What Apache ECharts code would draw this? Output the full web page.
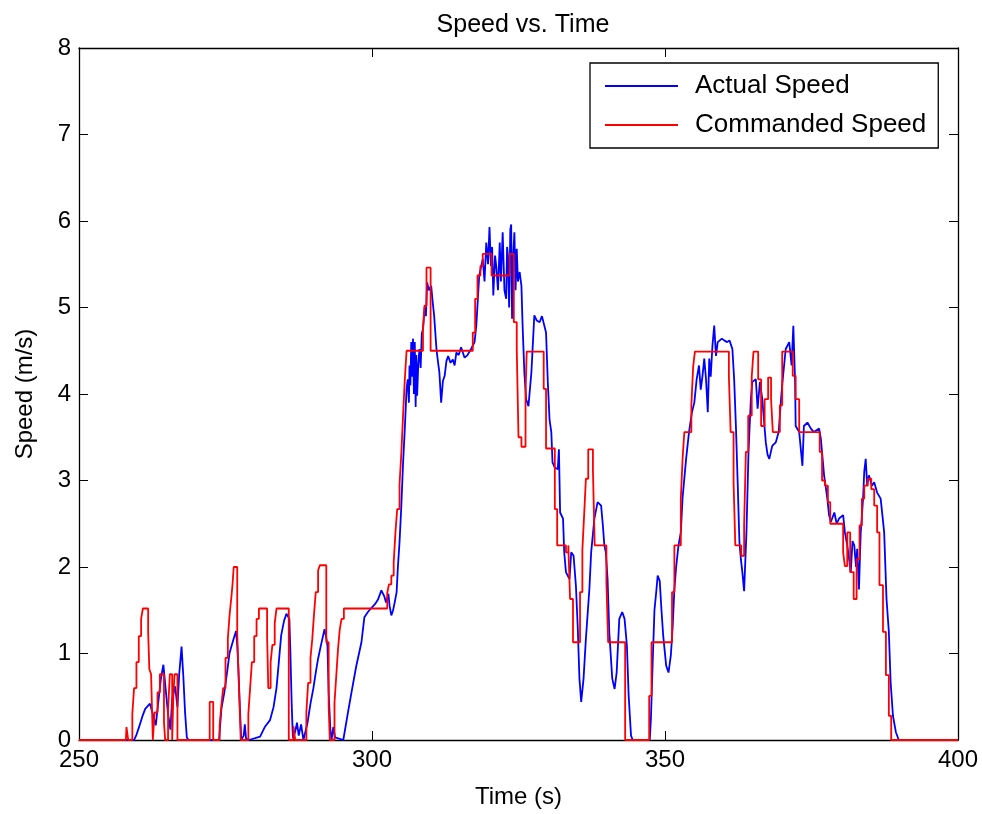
<!DOCTYPE html>
<html>
<head>
<meta charset="utf-8">
<script src="https://cdn.jsdelivr.net/npm/echarts@6/dist/echarts.min.js"></script>
<style>
  html, body { margin: 0; padding: 0; background: #fff; }
  #chart { width: 982px; height: 814px; }
</style>
</head>
<body>
<div id="chart"></div>
<script>
// Measured vehicle speed, [time (s), speed (m/s)]
const actualSpeed = [
  [250,0],[259.4,0],[259.8,0.06],[260.3,0.16],[260.8,0.27],[261.3,0.36],[262.1,0.42],[262.6,0.3],[263.1,0.17],
  [263.5,0.42],[264.0,0.72],[264.4,0.87],[264.8,0.58],[265.2,0.3],[265.6,0.12],[265.9,0.48],[266.4,0.62],
  [266.8,0.38],[267.1,0.76],[267.5,1.08],[267.8,0.74],[268.1,0.32],[268.4,0.03],[268.7,0],
  [273.9,0],[274.3,0.36],[274.8,0.55],[275.3,0.8],[275.7,1.01],[276.3,1.15],[276.8,1.26],[277.0,1.1],
  [277.2,0.82],[277.5,0.3],[277.7,0],[278.1,0.05],[278.3,0.18],[278.5,0.02],[279,0],[280.9,0.04],
  [281.7,0.15],[282.6,0.23],[283.2,0.38],[283.7,0.6],[284.1,0.9],[284.5,1.21],[285.0,1.38],[285.4,1.46],
  [285.6,1.48],[285.9,1.4],[286.1,0.94],[286.3,0.4],[286.5,0.02],[286.9,0.1],[287.2,0.2],[287.5,0.05],
  [287.9,0.18],[288.3,0],[288.5,0.02],[289.0,0.2],[289.5,0.42],[290.0,0.6],[290.4,0.78],[290.8,0.94],
  [291.3,1.1],[291.9,1.28],[292.2,1.18],[292.4,1.09],[292.6,0.55],[292.9,0.12],[293.1,0],[293.4,0.15],
  [293.7,0.03],[295.1,0],[295.8,0.28],[296.5,0.55],[297.3,0.85],[298.2,1.13],[298.7,1.42],[299.3,1.48],
  [299.8,1.52],[300.5,1.57],[301.0,1.62],[301.6,1.73],[302.1,1.66],[302.4,1.59],[302.8,1.69],[303.0,1.55],
  [303.3,1.44],[303.6,1.5],[303.9,1.6],[304.2,1.71],[304.4,1.98],[304.7,2.29],[305.0,2.7],[305.3,3.2],
  [305.6,3.6],[305.9,4.06],[306.1,4.17],[306.3,3.9],[306.4,4.33],[306.55,4.1],[306.7,4.6],[306.85,4.2],
  [307.0,4.64],[307.15,4.0],[307.3,4.6],[307.45,3.85],[307.55,4.45],[307.7,3.98],[307.9,4.35],[308.1,4.52],
  [308.3,4.3],[308.5,4.7],[308.7,4.75],[309.0,5.0],[309.2,4.9],[309.4,5.29],[309.7,5.2],[310.1,5.25],
  [310.3,5.1],[310.6,4.91],[311.0,4.52],[311.3,4.35],[311.5,4.25],[311.8,3.9],[312.1,4.15],[312.4,4.21],
  [312.7,4.38],[313.0,4.44],[313.4,4.36],[313.8,4.4],[314.1,4.33],[314.4,4.48],[314.8,4.45],[315.2,4.54],
  [315.5,4.48],[315.8,4.42],[316.3,4.45],[316.9,4.52],[317.5,4.6],[317.8,4.79],[318.3,5.37],[318.9,5.56],
  [319.2,5.3],[319.5,5.75],[319.8,5.5],[320.05,5.93],[320.3,5.48],[320.5,5.7],[320.7,5.14],[321.0,5.6],
  [321.2,5.48],[321.5,5.2],[321.8,5.75],[322.0,5.3],[322.3,5.87],[322.6,5.2],[322.9,5.1],[323.05,5.7],
  [323.2,5.6],[323.4,5.0],[323.6,5.9],[323.75,5.96],[323.9,4.87],[324.1,5.6],[324.3,5.87],[324.5,5.2],
  [324.7,5.68],[324.9,5.3],[325.2,5.41],[325.5,5.25],[325.7,4.79],[326.0,4.25],[326.3,3.94],[326.7,3.86],
  [327.2,4.25],[327.7,4.91],[328.1,4.85],[328.6,4.83],[329.0,4.9],[329.3,4.92],[329.7,4.71],[330.0,4.14],
  [330.3,3.7],[330.6,3.56],[330.8,3.21],[331.2,3.15],[331.7,3.13],[331.9,3.36],[332.1,2.63],[332.6,2.56],
  [332.8,2.17],[333.1,1.94],[333.7,1.86],[334.0,2.17],[334.4,2.13],[334.8,1.78],[335.1,1.32],[335.4,0.71],
  [335.7,0.44],[336.1,0.71],[336.5,1.17],[337.1,1.75],[337.4,2.17],[337.95,2.56],[338.5,2.75],[339.1,2.71],
  [339.4,2.48],[339.65,2.25],[339.9,2.17],[340.2,1.86],[340.5,1.24],[341.0,0.71],[341.4,0.59],[341.75,0.78],
  [342.2,1.4],[342.7,1.48],[343.1,1.4],[343.5,1.09],[343.8,0.51],[344.2,0.05],[344.5,0],[347.4,0],
  [347.6,0.25],[347.9,0.9],[348.2,1.5],[348.5,1.71],[348.75,1.9],[349.1,1.84],[349.4,1.5],[349.7,1.2],
  [350.2,0.86],[350.6,0.78],[351.0,0.98],[351.3,1.3],[351.6,1.74],[351.9,2.0],[352.3,2.25],[352.7,2.4],
  [353.0,2.8],[353.6,3.25],[354.1,3.56],[354.6,3.79],[355.0,3.9],[355.4,4.17],[355.8,4.33],[356.1,4.05],
  [356.4,4.21],[356.7,4.41],[357.0,4.17],[357.3,3.79],[357.55,4.41],[357.8,4.2],[358.1,4.56],[358.4,4.79],
  [358.7,4.44],[359.0,4.6],[359.25,4.6],[359.7,4.64],[360.1,4.62],[360.6,4.6],[361.0,4.62],[361.5,4.52],
  [361.8,4.17],[362.1,3.63],[362.4,2.98],[362.7,2.29],[362.95,2.09],[363.2,1.94],[363.5,1.72],[363.7,1.74],
  [363.9,2.4],[364.25,3.33],[364.65,3.94],[364.9,4.14],[365.5,4.17],[365.8,3.83],[366.2,4.14],[366.6,3.94],
  [367.2,3.44],[367.5,3.3],[367.8,3.25],[368.3,3.4],[368.9,3.44],[369.4,3.56],[369.8,3.94],[370.05,4.14],
  [370.6,4.52],[371.2,4.6],[371.6,4.33],[371.9,4.79],[372.2,4.14],[372.3,3.63],[372.9,3.56],[373.45,3.17],
  [373.7,3.63],[374.3,3.67],[374.9,3.6],[375.4,3.56],[376.3,3.6],[376.6,3.48],[377.15,3.06],[377.4,2.94],
  [377.7,2.79],[378.0,2.6],[378.3,2.52],[378.9,2.63],[379.3,2.5],[379.7,2.56],[380.4,2.6],[380.7,2.4],
  [381.1,2.25],[381.4,2.1],[381.7,1.94],[382.0,2.3],[382.3,2.25],[382.6,2.0],[382.8,2.21],[383.1,1.74],
  [383.4,2.4],[383.8,2.79],[384.0,3.1],[384.25,3.25],[384.5,2.95],[384.8,3.06],[385.3,2.94],[385.7,2.98],
  [386.2,2.86],[386.8,2.79],[387.1,2.6],[387.4,2.4],[387.8,1.63],[388.2,1.25],[388.5,0.67],[388.9,0.28],
  [389.4,0.09],[389.9,0],[400,0]
];

// Commanded speed set-points, [time (s), speed (m/s)]; each value holds until the next point
const commandedSpeed = [
  [250,0],[258.0,0],[258.1,0.15],[258.4,0],[259.1,0.3],[259.4,0.6],[259.8,0.9],[260.2,1.2],[260.6,1.4],
  [260.9,1.52],[261.8,1.25],[262.0,0.82],[262.3,0.76],[262.6,0],[262.9,0.32],[263.4,0.55],[263.8,0.76],
  [264.5,0.2],[264.7,0],[265.2,0.35],[265.5,0.76],[265.9,0],[266.1,0.5],[266.3,0.76],[266.8,0],
  [272.3,0.44],[272.9,0],[274.0,0.17],[274.3,0.4],[274.6,0.6],[275.0,0.95],[275.4,1.17],[275.7,1.45],
  [276.0,1.65],[276.2,1.8],[276.4,2.0],[277.0,1.23],[277.3,0.6],[277.6,0],[278.9,0.3],[279.2,0.6],
  [279.5,0.9],[279.9,1.2],[280.3,1.4],[280.7,1.52],[282.1,1.2],[282.3,0.6],[282.7,0.9],[283.0,1.1],
  [283.4,1.35],[283.7,1.52],[285.8,0],[286.6,0.16],[286.9,0],[288.8,0.32],[289.1,0.66],[289.5,0.95],
  [289.8,1.16],[290.1,1.45],[290.4,1.71],[290.8,1.96],[291.1,2.02],[292.2,1.13],[292.6,0.4],[292.8,0],
  [293.6,0.43],[293.9,0.74],[294.2,1.05],[294.5,1.28],[294.8,1.4],[295.2,1.52],[302.6,1.7],[302.9,1.8],
  [303.3,1.9],[303.7,2.05],[304.0,2.4],[304.3,2.67],[304.7,2.96],[305.0,3.31],[305.3,3.75],[305.6,4.17],
  [305.9,4.5],[308.7,4.75],[308.95,5.02],[309.3,5.46],[310.0,4.5],[317.2,4.71],[317.6,5.1],[318.0,5.37],
  [318.5,5.48],[318.9,5.62],[320.4,5.37],[323.5,5.62],[324.2,4.83],[324.7,4.52],[325.0,3.5],[325.5,3.39],
  [326.2,4.0],[326.4,4.49],[329.3,4.06],[329.7,3.37],[331.2,2.67],[331.6,2.25],[333.1,2.17],[333.5,2.25],
  [333.8,1.63],[334.3,1.13],[335.5,1.71],[335.9,2.2],[336.2,2.6],[336.5,3.02],[336.9,3.36],[337.7,3.13],
  [338.0,2.25],[340.0,1.82],[340.3,1.13],[343.2,0],[347.3,0.51],[347.7,1.13],[351.2,1.71],[351.6,2.25],
  [352.7,2.79],[353.0,3.25],[353.3,3.56],[354.5,3.87],[354.8,4.31],[355.1,4.49],[360.9,4.21],[361.2,3.56],
  [361.7,2.98],[362.0,2.25],[363.0,2.13],[363.5,2.48],[363.8,3.33],[364.2,3.75],[364.8,4.2],[365.1,4.49],
  [365.9,4.17],[366.4,3.63],[367.0,3.94],[367.6,4.19],[368.1,3.94],[368.4,3.56],[369.6,3.87],[370.0,4.49],
  [371.8,4.21],[372.3,3.94],[372.9,3.56],[376.4,3.33],[376.8,3.0],[377.3,2.94],[377.8,2.75],[378.2,2.5],
  [380.4,2.17],[380.7,2.01],[381.1,2.4],[381.6,1.94],[382.2,1.63],[382.7,2.09],[383.2,2.48],[383.6,2.79],
  [384.0,2.94],[384.6,3.02],[385.2,2.9],[385.7,2.71],[386.2,2.4],[386.6,1.79],[387.2,1.25],[387.7,0.75],
  [388.2,0.28],[388.6,0],[400,0]
];

const seriesNames = ['Actual Speed', 'Commanded Speed'];
const timeTicks = [250, 300, 350, 400];
const speedTicks = [0, 1, 2, 3, 4, 5, 6, 7, 8];

const FONT = '"Liberation Sans", Arial, Helvetica, sans-serif';
const INK = '#000000';

const chart = echarts.init(document.getElementById('chart'), null, { renderer: 'canvas' });

const tickInside = { show: true, inside: true, length: 9, lineStyle: { color: INK, width: 1 } };

chart.setOption({
  animation: false,
  backgroundColor: '#ffffff',
  title: {
    text: 'Speed vs. Time',
    left: 518,
    textAlign: 'center',
    top: 8,
    textStyle: { fontFamily: FONT, fontSize: 25, fontWeight: 'normal', color: INK }
  },
  legend: {
    data: seriesNames,
    orient: 'vertical',
    left: 590,
    top: 63,
    padding: [10, 12, 10, 15],
    itemGap: 13,
    itemWidth: 73,
    itemHeight: 2,
    icon: 'rect',
    borderColor: INK,
    borderWidth: 1.3,
    backgroundColor: '#ffffff',
    textStyle: { fontFamily: FONT, fontSize: 26, color: INK, lineHeight: 26, padding: [0, 0, 0, 12] }
  },
  grid: { left: 79, right: 24, top: 48, bottom: 73, containLabel: false },
  xAxis: [
    {
      type: 'value', min: timeTicks[0], max: timeTicks[timeTicks.length - 1], interval: 50,
      name: 'Time (s)', nameLocation: 'middle', nameGap: 45,
      nameTextStyle: { fontFamily: FONT, fontSize: 24, color: INK },
      axisLine: { show: true, onZero: false, lineStyle: { color: INK, width: 1.3 } },
      axisTick: tickInside,
      axisLabel: { fontFamily: FONT, fontSize: 24, color: INK, margin: 8 },
      splitLine: { show: false }
    },
    {
      type: 'value', position: 'top', min: timeTicks[0], max: timeTicks[timeTicks.length - 1], interval: 50,
      axisLine: { show: true, onZero: false, lineStyle: { color: INK, width: 1.3 } },
      axisTick: tickInside, axisLabel: { show: false }, splitLine: { show: false }
    }
  ],
  yAxis: [
    {
      type: 'value', min: speedTicks[0], max: speedTicks[speedTicks.length - 1], interval: 1,
      name: 'Speed (m/s)', nameLocation: 'middle', nameGap: 42,
      nameTextStyle: { fontFamily: FONT, fontSize: 24, color: INK },
      axisLine: { show: true, onZero: false, lineStyle: { color: INK, width: 1.3 } },
      axisTick: tickInside,
      axisLabel: { fontFamily: FONT, fontSize: 24, color: INK, margin: 8 },
      splitLine: { show: false }
    },
    {
      type: 'value', position: 'right', min: speedTicks[0], max: speedTicks[speedTicks.length - 1], interval: 1,
      axisLine: { show: true, onZero: false, lineStyle: { color: INK, width: 1.3 } },
      axisTick: tickInside, axisLabel: { show: false }, splitLine: { show: false }
    }
  ],
  series: [
    {
      name: seriesNames[0], type: 'line', data: actualSpeed,
      showSymbol: false, symbol: 'none',
      lineStyle: { color: '#0000ff', width: 1.8 },
      itemStyle: { color: '#0000ff' }
    },
    {
      name: seriesNames[1], type: 'line', data: commandedSpeed, step: 'end',
      showSymbol: false, symbol: 'none',
      lineStyle: { color: '#ff0000', width: 1.8 },
      itemStyle: { color: '#ff0000' }
    }
  ]
});
</script>
</body>
</html>
